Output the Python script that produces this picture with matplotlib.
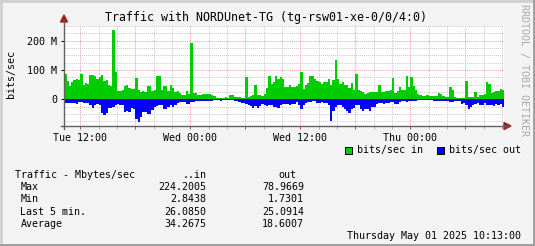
import numpy as np
import matplotlib.pyplot as plt
from matplotlib.lines import Line2D
from matplotlib.patches import Polygon, Rectangle

W, H = 535, 246

# traffic samples, Mbit/s, one per 15 min starting Tue 10:15 (hours since Tue 00:00)
START_HOUR = 10.25
STEP_HOURS = 0.25
traffic_in = [
    87, 61, 45, 59, 65, 68, 65, 87, 50, 57, 53, 82, 84, 80, 68, 78, 84, 61, 65, 50,
    45, 236, 93, 30, 27, 31, 45, 48, 39, 36, 36, 73, 32, 25, 30, 25, 45, 45, 27, 31,
    80, 80, 31, 45, 45, 27, 48, 39, 25, 27, 23, 16, 16, 28, 17, 193, 23, 20, 14, 14,
    18, 18, 18, 18, 14, 11, 5, 5, 5, 5, 8, 5, 14, 14, 7, 8, 8, 5, 5, 76,
    7, 11, 16, 50, 16, 16, 11, 18, 39, 80, 52, 59, 80, 70, 76, 68, 42, 42, 50, 42,
    42, 45, 53, 93, 36, 48, 57, 80, 80, 68, 61, 59, 53, 59, 59, 70, 48, 65, 134, 70,
    52, 59, 48, 48, 39, 57, 31, 87, 31, 28, 25, 19, 23, 25, 25, 25, 25, 48, 25, 25,
    27, 27, 31, 73, 23, 27, 42, 31, 31, 80, 42, 76, 45, 31, 18, 14, 11, 11, 14, 11,
    11, 11, 11, 23, 18, 11, 9, 9, 42, 31, 7, 5, 5, 5, 5, 61, 7, 7, 7, 25,
    8, 14, 14, 18, 59, 53, 23, 25, 27, 27, 36, 31,
]
traffic_out = [
    14, 14, 11, 11, 11, 16, 9, 9, 11, 11, 11, 18, 30, 20, 16, 20, 45, 52, 45, 30,
    30, 26, 20, 15, 18, 18, 43, 39, 43, 30, 34, 66, 77, 60, 43, 43, 49, 49, 38, 26,
    23, 20, 20, 34, 34, 26, 18, 26, 20, 13, 10, 9, 9, 16, 16, 9, 9, 5, 5, 5,
    5, 5, 5, 5, 5, 2, 2, 2, 5, 2, 2, 2, 2, 2, 7, 7, 9, 14, 14, 15,
    18, 23, 30, 23, 30, 23, 15, 20, 23, 18, 20, 26, 26, 30, 20, 15, 15, 15, 20, 15,
    15, 9, 18, 32, 20, 14, 9, 9, 7, 7, 11, 11, 9, 14, 14, 20, 75, 41, 26, 20,
    20, 26, 32, 39, 45, 34, 30, 20, 20, 34, 41, 32, 34, 41, 27, 27, 15, 11, 11, 16,
    11, 11, 9, 9, 15, 16, 9, 7, 7, 9, 5, 5, 7, 5, 2, 2, 2, 2, 2, 2,
    2, 5, 5, 5, 5, 7, 7, 7, 9, 9, 7, 5, 5, 16, 14, 20, 34, 25, 20, 16,
    14, 18, 20, 11, 18, 20, 18, 23, 16, 20, 16, 25,
]

x_labels = {12: "Tue 12:00", 24: "Wed 00:00", 36: "Wed 12:00", 48: "Thu 00:00"}
y_labels = {0: "0", 100: "100 M", 200: "200 M"}

stat_names = ["Max", "Min", "Last 5 min.", "Average"]
stat_in = ["224.2005", "2.8438", "26.0850", "34.2675"]
stat_out = ["78.9669", "1.7301", "25.0914", "18.6007"]

GREEN = "#00CC00"
BLUE = "#0000FF"
MONO = "DejaVu Sans Mono"


def fx(x):
    return x / W


def fy(y):
    return 1 - y / H


fig = plt.figure(figsize=(W / 100, H / 100), dpi=100, facecolor="#F3F3F3")

# plot area in pixels: x 64..504, y 26..126
ax = fig.add_axes([fx(64), fy(126), 440 / W, 100 / H])
ax.set_facecolor("white")
ax.set_xlim(10.22, 58.22)
ax.set_ylim(-91, 250.5)

edges = START_HOUR + STEP_HOURS * np.arange(len(traffic_in) + 1)
ax.stairs(traffic_in, edges, baseline=0, fill=True, color=GREEN, zorder=2)
ax.stairs(-np.array(traffic_out), edges, baseline=0, fill=True, color=BLUE, zorder=2)

ax.set_xticks(np.arange(12, 58, 6))
ax.set_xticks([h for h in range(12, 59, 2) if h % 6], minor=True)
ax.set_yticks(list(y_labels))
ax.set_yticks([v for v in range(-75, 251, 25) if v % 100], minor=True)
ax.set_xticklabels([x_labels.get(h, "") for h in range(12, 58, 6)])
ax.set_yticklabels([y_labels[v] for v in y_labels])

ax.grid(which="minor", color="#C8C8C8", linestyle=(0, (1, 1)), linewidth=0.7, zorder=1)
ax.grid(which="major", color="#F0A0A0", linestyle=(0, (1, 1)), linewidth=0.7, zorder=1)
ax.set_axisbelow(True)

ax.tick_params(axis="both", which="both", labelsize=7.2, length=2, width=0.7, pad=3)
ax.tick_params(axis="x", which="major", colors="#D04040", labelcolor="black")
ax.tick_params(axis="x", which="minor", colors="#B0B0B0")
ax.tick_params(axis="y", which="minor", length=0)
for lab in ax.get_xticklabels() + ax.get_yticklabels():
    lab.set_family(MONO)
for s in ax.spines.values():
    s.set_visible(False)

# axis lines with arrows
axc = "#606060"
fig.add_artist(Line2D([fx(61), fx(508)], [fy(126), fy(126)], color=axc, lw=1))
fig.add_artist(Line2D([fx(64), fx(64)], [fy(129), fy(21)], color=axc, lw=1))
arrow_c = "#A02020"
fig.add_artist(Polygon([[fx(504), fy(122.5)], [fx(511), fy(126)], [fx(504), fy(129.5)]],
                       closed=True, color=arrow_c, transform=fig.transFigure))
fig.add_artist(Polygon([[fx(60.5), fy(22)], [fx(64), fy(15)], [fx(67.5), fy(22)]],
                       closed=True, color=arrow_c, transform=fig.transFigure))

# frame
fig.add_artist(Line2D([0, 1], [fy(1), fy(1)], color="#D0D0D0", lw=2))
fig.add_artist(Line2D([fx(1), fx(1)], [0, 1], color="#D0D0D0", lw=2))
fig.add_artist(Line2D([0, 1], [fy(245), fy(245)], color="#9C9C9C", lw=2))
fig.add_artist(Line2D([fx(534), fx(534)], [0, 1], color="#9C9C9C", lw=2))

fig.text(fx(266), fy(17), "Traffic with NORDUnet-TG (tg-rsw01-xe-0/0/4:0)",
         family=MONO, fontsize=8.4, ha="center", va="center")
fig.text(fx(11), fy(74), "bits/sec", family=MONO, fontsize=7.2,
         rotation=90, ha="center", va="center")
fig.text(fx(524), fy(4), "RRDTOOL / TOBI OETIKER", family=MONO, fontsize=7.2,
         color="#A8A8A8", rotation=270, ha="center", va="top")

# legend
for xb, col, txt in [(345, GREEN, "bits/sec in"), (437, BLUE, "bits/sec out")]:
    fig.add_artist(Rectangle((fx(xb), fy(154)), 7 / W, 7 / H, facecolor=col,
                             edgecolor="black", lw=0.7, transform=fig.transFigure))
    fig.text(fx(xb + 12), fy(150.5), txt, family=MONO, fontsize=7.2, va="center")

# stats table
fig.text(fx(15), fy(174.6), "Traffic - Mbytes/sec", family=MONO, fontsize=7.2, va="center")
fig.text(fx(206.5), fy(174.6), "..in", family=MONO, fontsize=7.2, va="center", ha="right")
fig.text(fx(296), fy(174.6), "out", family=MONO, fontsize=7.2, va="center", ha="right")
for i, name in enumerate(stat_names):
    yy = 187.2 + i * 12.3
    fig.text(fx(20.5), fy(yy), name, family=MONO, fontsize=7.2, va="center")
    fig.text(fx(206.5), fy(yy), stat_in[i], family=MONO, fontsize=7.2, va="center", ha="right")
    fig.text(fx(304), fy(yy), stat_out[i], family=MONO, fontsize=7.2, va="center", ha="right")

fig.text(fx(521), fy(236.4), "Thursday May 01 2025 10:13:00", family=MONO,
         fontsize=7.2, va="center", ha="right")

fig.savefig("out.png", dpi=100, facecolor=fig.get_facecolor())
